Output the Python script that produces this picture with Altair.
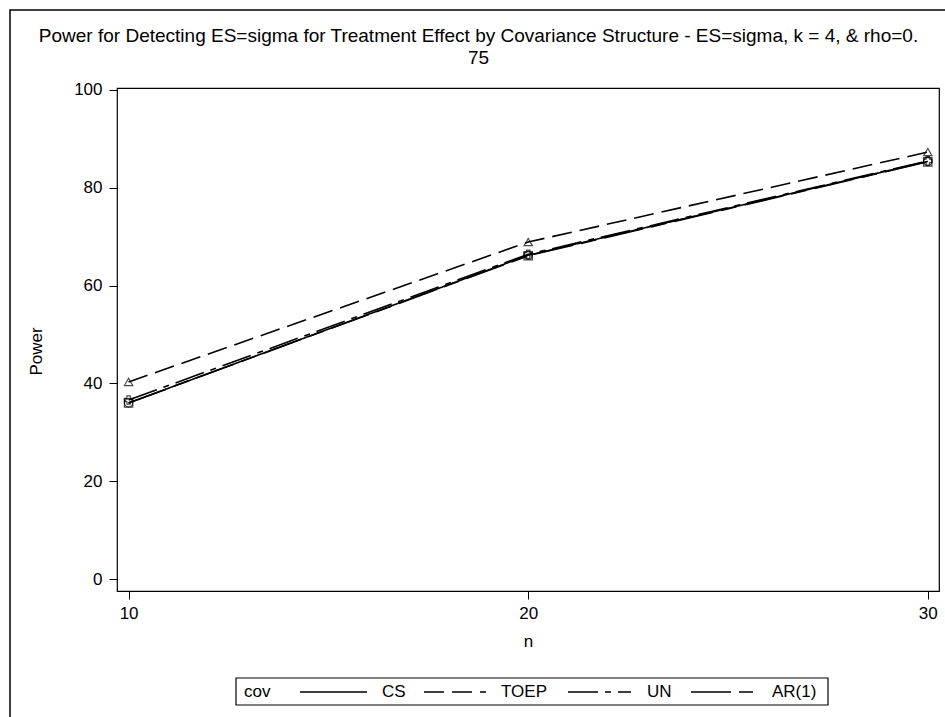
import altair as alt
import pandas as pd

# ---- data ----
n_values = [10, 20, 30]
cov_names = ["CS", "TOEP", "UN", "AR(1)"]
power_cs = [36.0, 66.2, 85.4]
power_toep = [40.3, 68.9, 87.3]
power_un = [36.6, 66.4, 85.5]
power_ar1 = [36.0, 66.1, 85.3]
y_ticks = [0, 20, 40, 60, 80, 100]
title_lines = ["Power for Detecting ES=sigma for Treatment Effect by Covariance Structure - ES=sigma, k = 4, & rho=0.", "75"]
legend_title = "cov"

series = {"CS": power_cs, "TOEP": power_toep, "UN": power_un, "AR(1)": power_ar1}
rows = []
for name in cov_names:
    for n, p in zip(n_values, series[name]):
        rows.append({"n": n, "Power": p, "cov": name, "marker": name})
df = pd.DataFrame(rows)

# ---- styling / layout (pixels relative to plot origin at 117, 88) ----
FONT = "Liberation Sans"
FS = 17
dashes = [[1, 0], [20, 8], [30, 7, 6, 7], [40, 8, 16, 8]]
shapes = ["circle", "triangle-up", "cross", "square"]
dash_scale = alt.Scale(domain=cov_names, range=dashes)

leg_line_x0 = [183, 307, 451, 574]
leg_line_x1 = [250, 369, 514, 636]
leg_label_x = [265, 384, 530, 655]
leg_y = 604

xscale = alt.Scale(domain=[9.71, 30.28], nice=False, zero=False)
yscale = alt.Scale(domain=[-2.45, 100.4], nice=False, zero=False)

x_enc = alt.X("n:Q", scale=xscale, title="n",
              axis=alt.Axis(values=n_values, grid=False, tickSize=8, labelPadding=6,
                            titlePadding=12, domain=False, labelFlush=False))
y_enc = alt.Y("Power:Q", scale=yscale, title="Power",
              axis=alt.Axis(values=y_ticks, grid=False, tickSize=8,
                            labelPadding=7, titleX=-81, titleY=263, titleBaseline="middle",
                            domain=False, labelFlush=False))

lines = alt.Chart(df).mark_line(color="black", strokeWidth=1.6).encode(
    x=x_enc, y=y_enc,
    strokeDash=alt.StrokeDash("cov:N", scale=dash_scale, legend=None),
)

points = alt.Chart(df).mark_point(color="black", filled=False, size=70, strokeWidth=1.2).encode(
    x="n:Q", y="Power:Q",
    shape=alt.Shape("marker:N", scale=alt.Scale(domain=cov_names, range=shapes), legend=None),
)

frame = alt.Chart(pd.DataFrame({"a": [0]})).mark_rect(
    fill=None, stroke="black", strokeWidth=1.5, clip=False
).encode(x=alt.value(-107), x2=alt.value(900), y=alt.value(-78), y2=alt.value(700))

title_df = pd.DataFrame({"t": title_lines, "ty": [-46, -24]})
title = alt.Chart(title_df).mark_text(
    font=FONT, fontSize=19, color="black", align="center", baseline="alphabetic"
).encode(x=alt.value(361.5), y=alt.Y("ty:Q", scale=None), text="t:N")

leg_df = pd.DataFrame({"cov": cov_names, "x0": leg_line_x0, "x1": leg_line_x1, "lx": leg_label_x})
leg_box = alt.Chart(pd.DataFrame({"a": [0]})).mark_rect(
    fill=None, stroke="black", strokeWidth=1.2
).encode(x=alt.value(119), x2=alt.value(711), y=alt.value(590), y2=alt.value(617))
leg_lines = alt.Chart(leg_df).mark_rule(color="black", strokeWidth=1.5).encode(
    x=alt.X("x0:Q", scale=None), x2="x1:Q", y=alt.value(leg_y),
    strokeDash=alt.StrokeDash("cov:N", scale=dash_scale, legend=None),
)
leg_labels = alt.Chart(leg_df).mark_text(
    font=FONT, fontSize=FS, color="black", align="left", baseline="middle"
).encode(x=alt.X("lx:Q", scale=None), y=alt.value(leg_y), text="cov:N")
leg_title = alt.Chart(pd.DataFrame({"t": [legend_title]})).mark_text(
    font=FONT, fontSize=FS, color="black", align="left", baseline="middle"
).encode(x=alt.value(127), y=alt.value(leg_y), text="t:N")

chart = alt.layer(frame, title, lines, points, leg_box, leg_lines, leg_labels, leg_title).properties(
    width=822, height=503,
    background="white",
    autosize=alt.AutoSizeParams(type="none"),
    padding={"left": 117, "top": 88, "right": 6, "bottom": 126},
).configure_view(stroke="black", strokeWidth=1.2).configure_axis(
    labelFont=FONT, titleFont=FONT, labelFontSize=FS, titleFontSize=FS,
    labelColor="black", titleColor="black", tickColor="black", titleFontWeight="normal",
)

chart.save("out.html", embed_options={"renderer": "svg", "actions": False})
